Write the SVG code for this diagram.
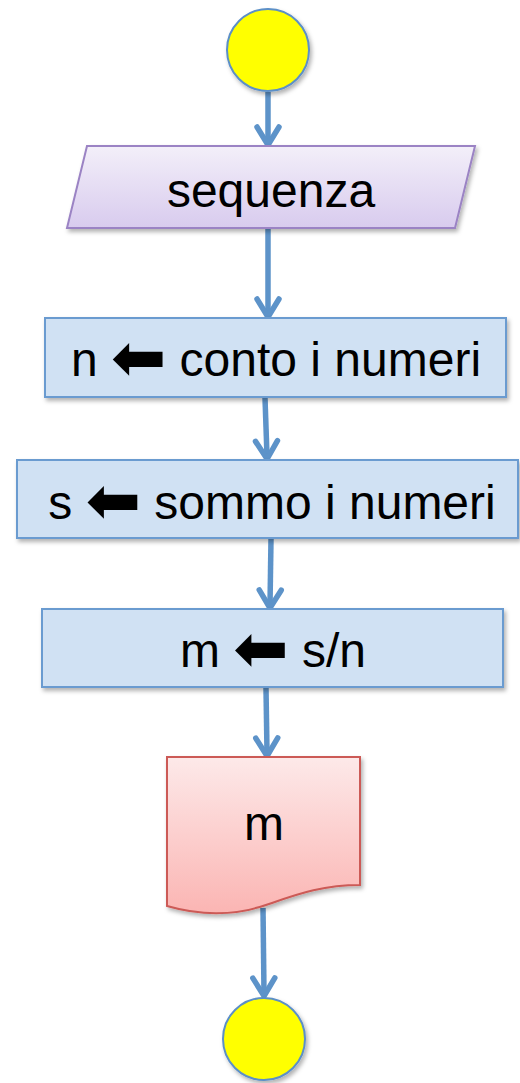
<svg xmlns="http://www.w3.org/2000/svg" width="520" height="1083" viewBox="0 0 520 1083">
  <style>
    .lbl { font-family: "Liberation Sans", Arial, sans-serif; font-size: 48px; fill: #000; text-anchor: middle; }
    .arw { font-family: "DejaVu Sans", sans-serif; font-size: 66px; }
    .term { fill: #ffff00; stroke: #5b8fc7; stroke-width: 2; }
    .proc { fill: #d0e1f3; stroke: #6b9bd0; stroke-width: 2; }
    .conn { stroke: #5d93c9; stroke-width: 5.5; fill: none; marker-end: url(#head); }
  </style>
  <defs>
    <filter id="shadow" x="-10%" y="-10%" width="130%" height="140%">
      <feDropShadow dx="2" dy="3" stdDeviation="2" flood-color="#000" flood-opacity="0.3"/>
    </filter>
    <linearGradient id="gradIn" x1="0" y1="0" x2="0" y2="1">
      <stop offset="0" stop-color="#f3eff9"/>
      <stop offset="1" stop-color="#d8cbee"/>
    </linearGradient>
    <linearGradient id="gradOut" x1="0" y1="0" x2="0" y2="1">
      <stop offset="0" stop-color="#fde9e9"/>
      <stop offset="1" stop-color="#fbb5b3"/>
    </linearGradient>
    <marker id="head" markerUnits="userSpaceOnUse" orient="auto" overflow="visible" markerWidth="1" markerHeight="1" refX="0" refY="0">
      <path d="M -15 -11 L 3 0 L -15 11" fill="none" stroke="#5d93c9" stroke-width="5.5" stroke-linecap="round" stroke-linejoin="round"/>
    </marker>
  </defs>

  <!-- connectors -->
  <g id="connectors">
    <line class="conn" x1="268" y1="92" x2="268" y2="142"/>
    <line class="conn" x1="268" y1="229" x2="268" y2="314"/>
    <line class="conn" x1="265" y1="398" x2="267" y2="456"/>
    <line class="conn" x1="271" y1="539" x2="270" y2="605"/>
    <line class="conn" x1="266" y1="688" x2="267" y2="753"/>
    <line class="conn" x1="263" y1="908" x2="264" y2="993"/>
  </g>

  <!-- start -->
  <g id="start" filter="url(#shadow)">
    <circle class="term" cx="268" cy="50" r="41"/>
  </g>

  <!-- input: sequenza -->
  <g id="input">
    <polygon points="87,146 475,146 455,228 67,228" fill="url(#gradIn)" stroke="#9b83c4" stroke-width="2" filter="url(#shadow)"/>
    <text class="lbl" x="271" y="207">sequenza</text>
  </g>

  <!-- n <- conto i numeri -->
  <g id="count">
    <rect class="proc" x="45" y="318" width="461" height="79" filter="url(#shadow)"/>
    <text class="lbl" x="276" y="376">n <tspan class="arw" dy="4">⬅</tspan><tspan dy="-4"> conto i numeri</tspan></text>
  </g>

  <!-- s <- sommo i numeri -->
  <g id="sum">
    <rect class="proc" x="17" y="460" width="501" height="78" filter="url(#shadow)"/>
    <text class="lbl" x="272" y="519">s <tspan class="arw" dy="4">⬅</tspan><tspan dy="-4"> sommo i numeri</tspan></text>
  </g>

  <!-- m <- s/n -->
  <g id="mean">
    <rect class="proc" x="42" y="609" width="461" height="78" filter="url(#shadow)"/>
    <text class="lbl" x="273" y="667">m <tspan class="arw" dy="4">⬅</tspan><tspan dy="-4"> s/n</tspan></text>
  </g>

  <!-- output: m -->
  <g id="output">
    <path d="M 167 757 H 360 V 885 C 325 885 300 893 272 903 C 240 915 205 917 167 906 Z" fill="url(#gradOut)" stroke="#cc5a56" stroke-width="2" filter="url(#shadow)"/>
    <text class="lbl" x="264" y="840">m</text>
  </g>

  <!-- end -->
  <g id="end" filter="url(#shadow)">
    <circle class="term" cx="264" cy="1039" r="41"/>
  </g>
</svg>
